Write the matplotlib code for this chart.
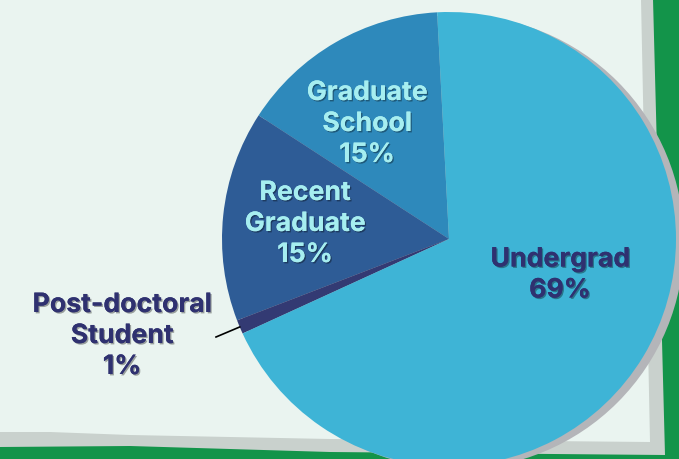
import numpy as np
import matplotlib.pyplot as plt
from matplotlib.patches import Polygon, Circle
import matplotlib.patheffects as pe

# dati (ordine antiorario a partire dall'alto)
categories = ["Graduate\nSchool", "Recent\nGraduate", "Post-doctoral\nStudent", "Undergrad"]
values = [15, 15, 1, 69]
colors = ["#2e89bb", "#2e5c96", "#333a73", "#3eb4d6"]
text_colors = ["#a6eef0", "#a6eef0", "#2f3170", "#2f3170"]

# posizioni delle etichette (coordinate in pixel, y verso l'alto)
label_pos = [(367, 335), (305, 235), (122, 123), (560, 184)]

plt.rcParams['font.family'] = ['Inter', 'DejaVu Sans']

fig = plt.figure(figsize=(6.79, 4.60), dpi=100)
fig.patch.set_facecolor("#13944a")
ax = fig.add_axes([0, 0, 1, 1])

# foglio di carta con bordo grigio
ax.add_patch(Polygon([(0, 460), (653, 460), (665, 4), (330, 7), (130, 13), (0, 12)],
                     closed=True, facecolor="#c9d1cd", edgecolor="none", zorder=0))
ax.add_patch(Polygon([(0, 460), (641, 460), (650, 17), (330, 20), (130, 24), (50, 27), (0, 27)],
                     closed=True, facecolor="#eaf4f0", edgecolor="none", zorder=1))

cx, cy, r = 449, 220, 227
# ombra della torta
ax.add_patch(Circle((cx + 8, cy - 3), r, facecolor="#b4b5b9", edgecolor="none", zorder=2))

wedges, _ = ax.pie(values, colors=colors, startangle=93, counterclock=True,
                   center=(cx, cy), radius=r, wedgeprops=dict(linewidth=0))
for w in wedges:
    w.set_zorder(3)

shadow = [pe.withSimplePatchShadow(offset=(1, -1), shadow_rgbFace="black", alpha=0.35), pe.Normal()]
for lab, v, (x, y), c in zip(categories, values, label_pos, text_colors):
    ax.text(x, y, f"{lab}\n{v}%", ha="center", va="center", fontsize=19.2,
            fontweight="bold", color=c, linespacing=1.25, zorder=5, path_effects=shadow)

# linea guida per Post-doctoral
w = wedges[2]
th = np.deg2rad((w.theta1 + w.theta2) / 2)
ax.plot([cx + r * np.cos(th), 216], [cy + r * np.sin(th), 122], color="black", lw=1.2, zorder=4)

ax.set_xlim(0, 679)
ax.set_ylim(0, 460)
ax.set_aspect("auto")
ax.axis("off")

fig.savefig("out.png", dpi=100, facecolor=fig.get_facecolor())
